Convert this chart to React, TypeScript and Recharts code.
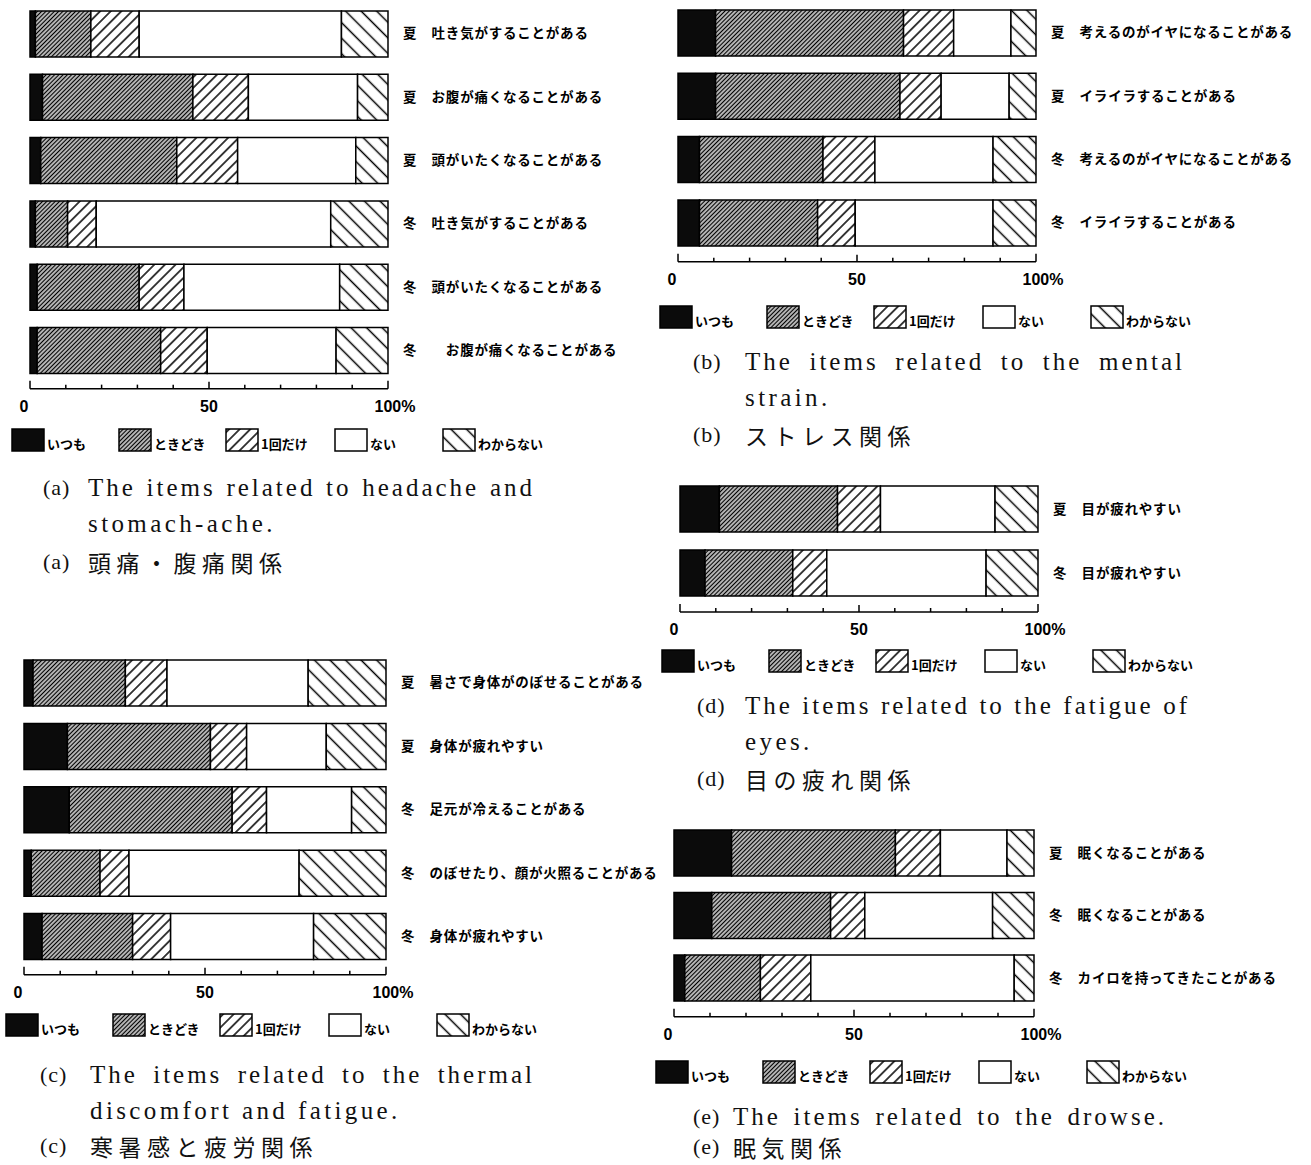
import React from 'react';
import { Bar, BarChart, Legend, XAxis, YAxis } from 'recharts';

const SERIES_NAMES = ['いつも', 'ときどき', '1回だけ', 'ない', 'わからない'];
const SERIES_KEYS = ['always', 'sometimes', 'once', 'never', 'unknown'];
const X_TICKS = [0, 10, 20, 30, 40, 50, 60, 70, 80, 90, 100];
const X_TICK_LABELS: Record<number, string> = { 0: '0', 50: '50', 100: '100%' };

// (a) headache / stomach-ache
const A_ITEMS = [
  '夏　吐き気がすることがある',
  '夏　お腹が痛くなることがある',
  '夏　頭がいたくなることがある',
  '冬　吐き気がすることがある',
  '冬　頭がいたくなることがある',
  '冬　　お腹が痛くなることがある',
];
const A_ALWAYS = [1.5, 3.5, 3, 1.5, 2, 2];
const A_SOMETIMES = [15.5, 42, 38, 9, 28.5, 34.5];
const A_ONCE = [13.5, 15.5, 17, 8, 12.5, 13];
const A_NEVER = [56.5, 30.5, 33, 65.5, 43.5, 36];
const A_UNKNOWN = [13, 8.5, 9, 16, 13.5, 14.5];

// (b) mental strain
const B_ITEMS = [
  '夏　考えるのがイヤになることがある',
  '夏　イライラすることがある',
  '冬　考えるのがイヤになることがある',
  '冬　イライラすることがある',
];
const B_ALWAYS = [10.5, 10.5, 6, 6];
const B_SOMETIMES = [52.5, 51.5, 34.5, 33];
const B_ONCE = [14, 11.5, 14.5, 10.5];
const B_NEVER = [16, 19, 33, 38.5];
const B_UNKNOWN = [7, 7.5, 12, 12];

// (c) thermal discomfort and fatigue
const C_ITEMS = [
  '夏　暑さで身体がのぼせることがある',
  '夏　身体が疲れやすい',
  '冬　足元が冷えることがある',
  '冬　のぼせたり、顔が火照ることがある',
  '冬　身体が疲れやすい',
];
const C_ALWAYS = [2.5, 12, 12.5, 2, 5];
const C_SOMETIMES = [25.5, 39.5, 45, 19, 25];
const C_ONCE = [11.5, 10, 9.5, 8, 10.5];
const C_NEVER = [39, 22, 23.5, 47, 39.5];
const C_UNKNOWN = [21.5, 16.5, 9.5, 24, 20];

// (d) fatigue of eyes
const D_ITEMS = ['夏　目が疲れやすい', '冬　目が疲れやすい'];
const D_ALWAYS = [11, 7];
const D_SOMETIMES = [33, 24.5];
const D_ONCE = [12, 9.5];
const D_NEVER = [32, 44.5];
const D_UNKNOWN = [12, 14.5];

// (e) drowse
const E_ITEMS = ['夏　眠くなることがある', '冬　眠くなることがある', '冬　カイロを持ってきたことがある'];
const E_ALWAYS = [16, 10.5, 3];
const E_SOMETIMES = [45.5, 33, 21];
const E_ONCE = [12.5, 9.5, 14];
const E_NEVER = [18.5, 35.5, 56.5];
const E_UNKNOWN = [7.5, 11.5, 5.5];

const A_CAPTION = ['The items related to headache and', 'stomach-ache.'];
const A_CAPTION_JA = '頭痛・腹痛関係';
const B_CAPTION = ['The items related to the mental', 'strain.'];
const B_CAPTION_JA = 'ストレス関係';
const C_CAPTION = ['The items related to the thermal', 'discomfort and fatigue.'];
const C_CAPTION_JA = '寒暑感と疲労関係';
const D_CAPTION = ['The items related to the fatigue of', 'eyes.'];
const D_CAPTION_JA = '目の疲れ関係';
const E_CAPTION = ['The items related to the drowse.'];
const E_CAPTION_JA = '眠気関係';

function rows(items: string[], always: number[], sometimes: number[], once: number[], never: number[], unknown: number[]) {
  return items.map((label, i) => ({
    label,
    always: always[i],
    sometimes: sometimes[i],
    once: once[i],
    never: never[i],
    unknown: unknown[i],
  }));
}

const JP_FONT = '"Noto Sans CJK JP", sans-serif';

function fillFor(id: string, key: string) {
  if (key === 'always') return '#0b0b0b';
  if (key === 'never') return '#fff';
  if (key === 'sometimes') return `url(#${id}-dense)`;
  if (key === 'once') return `url(#${id}-once)`;
  return `url(#${id}-back)`;
}

function Patterns({ id }: { id: string }) {
  return (
    <defs>
      <pattern id={`${id}-dense`} patternUnits="userSpaceOnUse" width={3} height={3} patternTransform="rotate(45)">
        <rect width={3} height={3} fill="#fff" />
        <line x1={1.5} y1={0} x2={1.5} y2={3} stroke="#000" strokeWidth={1.6} />
      </pattern>
      <pattern id={`${id}-once`} patternUnits="userSpaceOnUse" width={7.5} height={7.5} patternTransform="rotate(45)">
        <rect width={7.5} height={7.5} fill="#fff" />
        <line x1={3.75} y1={0} x2={3.75} y2={7.5} stroke="#000" strokeWidth={1.5} />
      </pattern>
      <pattern id={`${id}-back`} patternUnits="userSpaceOnUse" width={11} height={11} patternTransform="rotate(-45)">
        <rect width={11} height={11} fill="#fff" />
        <line x1={5.5} y1={0} x2={5.5} y2={11} stroke="#000" strokeWidth={1.5} />
      </pattern>
    </defs>
  );
}

const LEGEND_OFFSETS = [0, 107, 214, 323, 431];

function LegendRow({ id }: { id: string }) {
  return (
    <div style={{ position: 'relative', width: 580, height: 24 }}>
      {SERIES_KEYS.map((k, i) => (
        <div key={k} style={{ position: 'absolute', left: LEGEND_OFFSETS[i], top: 0, display: 'flex', alignItems: 'flex-end' }}>
          <svg width={34} height={24}>
            <rect x={1} y={1} width={32} height={22} fill={fillFor(id, k)} stroke="#000" strokeWidth={1.5} />
          </svg>
          <span style={{ fontFamily: JP_FONT, fontSize: 13, fontWeight: 700, marginLeft: 2, lineHeight: '16px' }}>
            {SERIES_NAMES[i]}
          </span>
        </div>
      ))}
    </div>
  );
}

function renderXTick(props: any) {
  const { x, y, payload } = props;
  const v = payload.value as number;
  const len = v === 0 || v === 100 ? 8 : v === 50 ? 7 : 4;
  const label = X_TICK_LABELS[v];
  return (
    <g>
      <line x1={x} y1={y} x2={x} y2={y - len} stroke="#000" strokeWidth={1.5} />
      {label && (
        <text
          x={v === 0 ? x - 6 : v === 100 ? x + 7 : x}
          y={y + 23}
          textAnchor="middle"
          fontFamily='"Liberation Sans", sans-serif'
          fontWeight={700}
          fontSize={16}
          fill="#000"
        >
          {label}
        </text>
      )}
    </g>
  );
}

function renderYTick(props: any) {
  const { x, y, payload } = props;
  return (
    <text x={x} y={y} dy="0.35em" textAnchor="start" fontFamily={JP_FONT} fontWeight={700} fontSize={13.5} letterSpacing={0.8} fill="#000">
      {payload.value}
    </text>
  );
}

type PanelProps = {
  id: string;
  data: any[];
  left: number;
  width: number;
  x0: number;
  x1: number;
  bandTop: number;
  pitch: number;
  axisY: number;
  legendDy: number;
};

function Panel({ id, data, left, width, x0, x1, bandTop, pitch, axisY, legendDy }: PanelProps) {
  const n = data.length;
  const top = bandTop - 2;
  const pad = axisY - (bandTop + n * pitch);
  const height = 2 + n * pitch + pad + 30 + 50;
  return (
    <div style={{ position: 'absolute', left, top }}>
      <BarChart
        layout="vertical"
        width={width}
        height={height}
        data={data}
        margin={{ top: 2, right: 0, bottom: 50, left: x0 - left }}
        barSize={46}
      >
        <Patterns id={id} />
        <XAxis
          type="number"
          domain={[0, 100]}
          ticks={X_TICKS}
          interval={0}
          tickSize={0}
          tickMargin={0}
          height={30}
          axisLine={{ stroke: '#000', strokeWidth: 1.5 }}
          tick={renderXTick}
        />
        <YAxis
          type="category"
          dataKey="label"
          orientation="right"
          width={left + width - x1}
          axisLine={false}
          tickLine={false}
          tickSize={0}
          tickMargin={15}
          padding={{ top: 0, bottom: pad }}
          tick={renderYTick}
        />
        <Legend
          layout="vertical"
          align="center"
          verticalAlign="middle"
          content={() => <LegendRow id={id} />}
          wrapperStyle={{ left: x0 - left - 19, top: axisY - top + legendDy - 12, width: 580, height: 24 }}
        />
        {SERIES_KEYS.map((k, i) => (
          <Bar
            key={k}
            dataKey={k}
            name={SERIES_NAMES[i]}
            stackId="s"
            fill={fillFor(id, k)}
            stroke="#000"
            strokeWidth={1.5}
            isAnimationActive={false}
          />
        ))}
      </BarChart>
    </div>
  );
}

type CaptionProps = {
  tag: string;
  lines: string[];
  ja: string;
  labelX: number;
  textX: number;
  width: number;
  ys: number[];
};

const EN_STYLE: React.CSSProperties = {
  position: 'absolute',
  fontFamily: '"Liberation Serif", serif',
  fontSize: 25,
  letterSpacing: 3,
  lineHeight: '26px',
  whiteSpace: 'nowrap',
  color: '#111',
};

function Caption({ tag, lines, ja, labelX, textX, width, ys }: CaptionProps) {
  const tagStyle: React.CSSProperties = { ...EN_STYLE, fontSize: 22, letterSpacing: 1, left: labelX };
  return (
    <>
      <div style={{ ...tagStyle, top: ys[0] - 13 }}>({tag})</div>
      {lines.map((line, i) => (
        <div
          key={i}
          style={{
            ...EN_STYLE,
            left: textX,
            top: ys[i] - 13,
            width: i === 0 ? width : undefined,
            textAlign: i === 0 ? 'justify' : 'left',
            textAlignLast: i === 0 ? 'justify' : 'auto',
            letterSpacing: i === 0 ? 3 : 3.4,
          }}
        >
          {line}
        </div>
      ))}
      <div style={{ ...tagStyle, top: ys[lines.length] - 13 }}>({tag})</div>
      <div
        style={{
          ...EN_STYLE,
          fontFamily: JP_FONT,
          fontSize: 23,
          letterSpacing: 5.5,
          lineHeight: '24px',
          left: textX,
          top: ys[lines.length] - 12,
        }}
      >
        {ja}
      </div>
    </>
  );
}

export default function App() {
  return (
    <div style={{ position: 'absolute', left: 0, top: 0, width: 1311, height: 1165, background: '#fff', overflow: 'hidden' }}>
      <Panel id="pa" data={rows(A_ITEMS, A_ALWAYS, A_SOMETIMES, A_ONCE, A_NEVER, A_UNKNOWN)}
        left={0} width={660} x0={30} x1={388} bandTop={2.35} pitch={63.3} axisY={389} legendDy={51} />
      <Panel id="pb" data={rows(B_ITEMS, B_ALWAYS, B_SOMETIMES, B_ONCE, B_NEVER, B_UNKNOWN)}
        left={650} width={661} x0={678} x1={1036} bandTop={1.35} pitch={63.3} axisY={262} legendDy={55} />
      <Panel id="pd" data={rows(D_ITEMS, D_ALWAYS, D_SOMETIMES, D_ONCE, D_NEVER, D_UNKNOWN)}
        left={650} width={661} x0={680} x1={1038} bandTop={477} pitch={64} axisY={612} legendDy={49} />
      <Panel id="pc" data={rows(C_ITEMS, C_ALWAYS, C_SOMETIMES, C_ONCE, C_NEVER, C_UNKNOWN)}
        left={0} width={680} x0={24} x1={386} bandTop={651.3} pitch={63.4} axisY={975} legendDy={50} />
      <Panel id="pe" data={rows(E_ITEMS, E_ALWAYS, E_SOMETIMES, E_ONCE, E_NEVER, E_UNKNOWN)}
        left={650} width={661} x0={674} x1={1034} bandTop={822.25} pitch={62.5} axisY={1017} legendDy={55} />

      <Caption tag="a" lines={A_CAPTION} ja={A_CAPTION_JA} labelX={43} textX={88} width={447} ys={[488, 524, 562]} />
      <Caption tag="b" lines={B_CAPTION} ja={B_CAPTION_JA} labelX={693} textX={745} width={440} ys={[362, 398, 435]} />
      <Caption tag="d" lines={D_CAPTION} ja={D_CAPTION_JA} labelX={697} textX={745} width={445} ys={[706, 742, 779]} />
      <Caption tag="c" lines={C_CAPTION} ja={C_CAPTION_JA} labelX={40} textX={90} width={445} ys={[1075, 1111, 1146]} />
      <Caption tag="e" lines={E_CAPTION} ja={E_CAPTION_JA} labelX={693} textX={733} width={434} ys={[1117, 1147]} />
    </div>
  );
}
